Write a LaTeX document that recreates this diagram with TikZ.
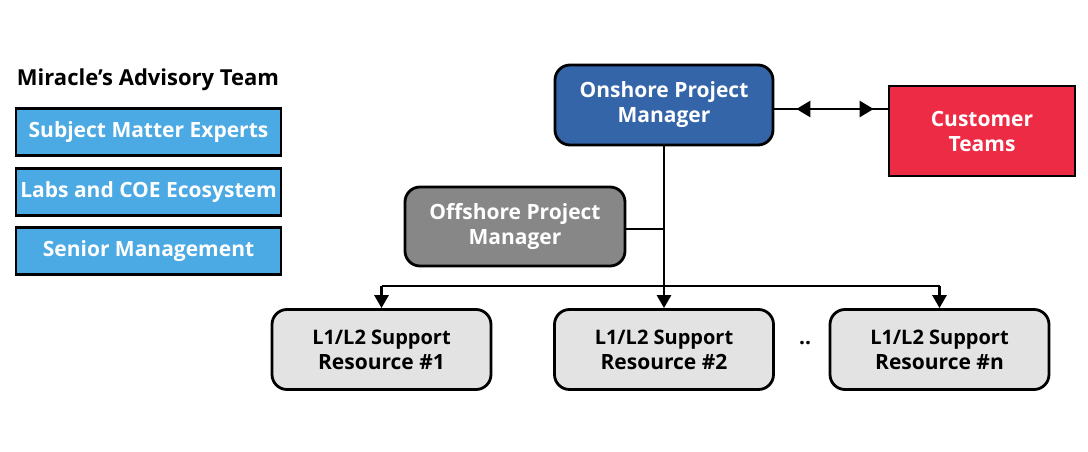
\documentclass[tikz,border=0pt]{standalone}
\usepackage{fontspec}
\setmainfont{Open Sans}
\newcommand\semib{\fontsize{20}{25}\selectfont}
\usetikzlibrary{arrows.meta}
\definecolor{advblue}{HTML}{4BA9E3}
\definecolor{onblue}{HTML}{3465A8}
\definecolor{custred}{HTML}{EE2B44}
\definecolor{offgray}{HTML}{878787}
\definecolor{resgray}{HTML}{E3E3E3}
\begin{document}
\begin{tikzpicture}[x=1pt,y=-1pt,
  box/.style={draw=black,line width=2.8pt,inner sep=0pt,font=\bfseries\fontsize{21}{25}\selectfont,align=center},
  advbox/.style={box,fill=advblue,text=white,minimum width=265pt,minimum height=47pt},
  rbox/.style={box,rounded corners=15pt,minimum width=219pt,minimum height=80pt},
  conn/.style={line width=2.8pt},
  arr/.style={line width=2.8pt,-{Triangle[length=13pt,width=14pt]}}
]
\useasboundingbox (0,0) rectangle (1088,452);
\node[font=\bfseries\fontsize{22}{26}\selectfont] (title) at (148,80) {Miracle’s Advisory Team};
\node[advbox] (sme) at (148.5,132) {Subject Matter Experts};
\node[advbox] (labs) at (148.5,192) {Labs and COE Ecosystem};
\node[advbox] (sm) at (148.5,251) {Senior Management};

\node[rbox,fill=onblue,text=white,minimum width=218pt] (on) at (664,105) {Onshore Project\\Manager};
\node[box,fill=custred,text=white,minimum width=186pt,minimum height=90pt] (cust) at (982,131) {Customer\\Teams};
\node[rbox,fill=offgray,text=white,minimum width=220pt,minimum height=79pt] (off) at (515,226.5) {Offshore Project\\Manager};

\node[rbox,fill=resgray] (r1) at (381.5,349.5) {{\semib L1/L2 Support}\\Resource \#1};
\node[rbox,fill=resgray] (r2) at (664,349.5) {{\semib L1/L2 Support}\\Resource \#2};
\node[rbox,fill=resgray] (rn) at (939.5,349.5) {{\semib L1/L2 Support}\\Resource \#n};
\node[font=\bfseries\fontsize{21}{25}\selectfont] (dots) at (805,343) {..};

\coordinate (bus1) at (381.5,286);
\coordinate (busn) at (939.5,286);
\coordinate (busm) at (664,286);
\coordinate (offj) at (664,229);

\draw[conn] (on.east |- 0,109) -- (cust.west |- 0,109);
\draw[line width=2.8pt,{Triangle[length=14pt,width=16pt]}-{Triangle[length=14pt,width=16pt]},shorten <=22pt,shorten >=14pt] (on.east |- 0,109) -- (cust.west |- 0,109);
\draw[conn] (on.south) -- (busm);
\draw[conn] (off.east |- offj) -- (offj);
\draw[conn] (bus1) -- (busn);
\draw[arr] (busm) -- (r2.north);
\draw[arr] (bus1) -- (r1.north);
\draw[arr] (busn) -- (rn.north);
\end{tikzpicture}
\end{document}
